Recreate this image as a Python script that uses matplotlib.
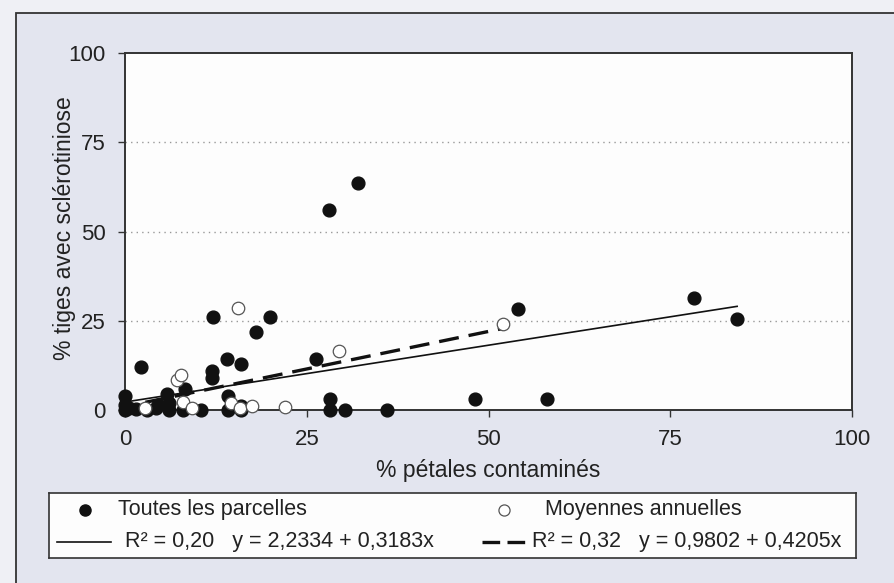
import matplotlib
matplotlib.use("Agg")
import matplotlib.pyplot as plt
from matplotlib.patches import Rectangle
import numpy as np

plt.rcParams['font.family'] = ['Liberation Sans', 'DejaVu Sans']

# Toutes les parcelles (% petales contamines, % tiges avec sclerotiniose)
parcelles_x = [0, 0, 0, 0.5, 1.5, 2.2, 3, 4.2, 4.5, 5.8, 6, 6, 8, 8.3, 10.5,
               12, 12, 12.1, 14, 14.2, 14.2, 16, 16, 16, 18, 20, 26.3, 28,
               28.2, 28.2, 30.2, 32, 36, 48.2, 54, 58, 78.2, 84.2]
parcelles_y = [0, 1.5, 3.8, 0.5, 0.3, 12, 0, 0.5, 1.5, 4.5, 0, 2, 0, 5.8, 0,
               9, 10.8, 26, 14.2, 4, 0, 13, 1, 0, 21.8, 26, 14.2, 56,
               3, 0, 0, 63.5, 0, 3, 28.2, 3, 31.5, 25.5]

# Moyennes annuelles
moyennes_x = [2.8, 7.2, 7.7, 8, 9.2, 14.6, 15.6, 15.8, 17.5, 22, 29.5, 52]
moyennes_y = [0.5, 8.5, 9.7, 2.3, 0.5, 2, 28.7, 0.5, 1.2, 0.8, 16.6, 24.2]

# regressions
reg1 = (2.2334, 0.3183)
reg2 = (0.9802, 0.4205)

W, H = 894, 583
fig = plt.figure(figsize=(W / 100, H / 100), dpi=100)
fig.patch.set_facecolor('#eff0f5')

# scanned frame
fig.patches.append(Rectangle((16 / W, -0.1), 1.2, 1 - 13 / H + 0.1,
                             transform=fig.transFigure, facecolor='#e3e5ef',
                             edgecolor='#333333', linewidth=1.3, zorder=-10))

ax = fig.add_axes([125 / W, 1 - 410 / H, (852 - 125) / W, (410 - 53) / H])
ax.set_facecolor('#fdfdfd')
ax.set_xlim(0, 100)
ax.set_ylim(0, 100)
ax.set_xticks([0, 25, 50, 75, 100])
ax.set_yticks([0, 25, 50, 75, 100])
ax.tick_params(direction='out', length=5, width=1, color='#333333',
               labelsize=16, labelcolor='#222222', pad=9)
for s in ax.spines.values():
    s.set_color('#333333')
    s.set_linewidth(1.4)
for yv in [25, 50, 75]:
    ax.axhline(yv, color='#999999', linestyle=(0, (1, 3)), linewidth=1, zorder=1)

xs1 = np.array([0, max(parcelles_x)])
ax.plot(xs1, reg1[0] + reg1[1] * xs1, color='#111111', linewidth=1.2, zorder=4)
xs2 = np.array([min(moyennes_x), max(moyennes_x)])
ax.plot(xs2, reg2[0] + reg2[1] * xs2, color='#111111', linewidth=2.4,
        dashes=(6, 3), zorder=4)

ax.plot(parcelles_x, parcelles_y, 'o', color='#111111', markersize=9.2,
        clip_on=False, zorder=3)
ax.plot(moyennes_x, moyennes_y, 'o', markerfacecolor='white',
        markeredgecolor='#555555', markeredgewidth=0.9, markersize=9,
        clip_on=False, zorder=5)

fig.text(488 / W, 1 - 470 / H, '% pétales contaminés', ha='center', va='center',
         fontsize=16.5, color='#222222')
fig.text(65 / W, 1 - 228 / H, '% tiges avec sclérotiniose', ha='center',
         va='center', rotation=90, fontsize=16.5, color='#222222')

# legend box
lg = fig.add_axes([49 / W, 1 - 558 / H, (856 - 49) / W, 65 / H])
lg.set_xlim(49, 856)
lg.set_ylim(558, 493)
lg.set_xticks([])
lg.set_yticks([])
lg.set_facecolor('#fdfdfd')
for s in lg.spines.values():
    s.set_color('#333333')
    s.set_linewidth(1.2)

lg.plot([85], [510], 'o', color='#111111', markersize=8)
lg.text(118, 510, 'Toutes les parcelles', va='center', fontsize=15.5, color='#222222')
lg.plot([57, 111], [542, 542], color='#111111', linewidth=1.2)
lg.text(125, 542, 'R² = 0,20   y = 2,2334 + 0,3183x', va='center', fontsize=15.5,
        color='#222222')
lg.plot([504], [510], 'o', markerfacecolor='white', markeredgecolor='#555555',
        markeredgewidth=0.9, markersize=8)
lg.text(545, 510, 'Moyennes annuelles', va='center', fontsize=15.5, color='#222222')
lg.plot([482, 525], [542, 542], color='#111111', linewidth=2.4, dashes=(5.3, 2.2))
lg.text(532, 542, 'R² = 0,32   y = 0,9802 + 0,4205x', va='center', fontsize=15.5,
        color='#222222')

fig.savefig('out.png', dpi=100, facecolor=fig.get_facecolor())
